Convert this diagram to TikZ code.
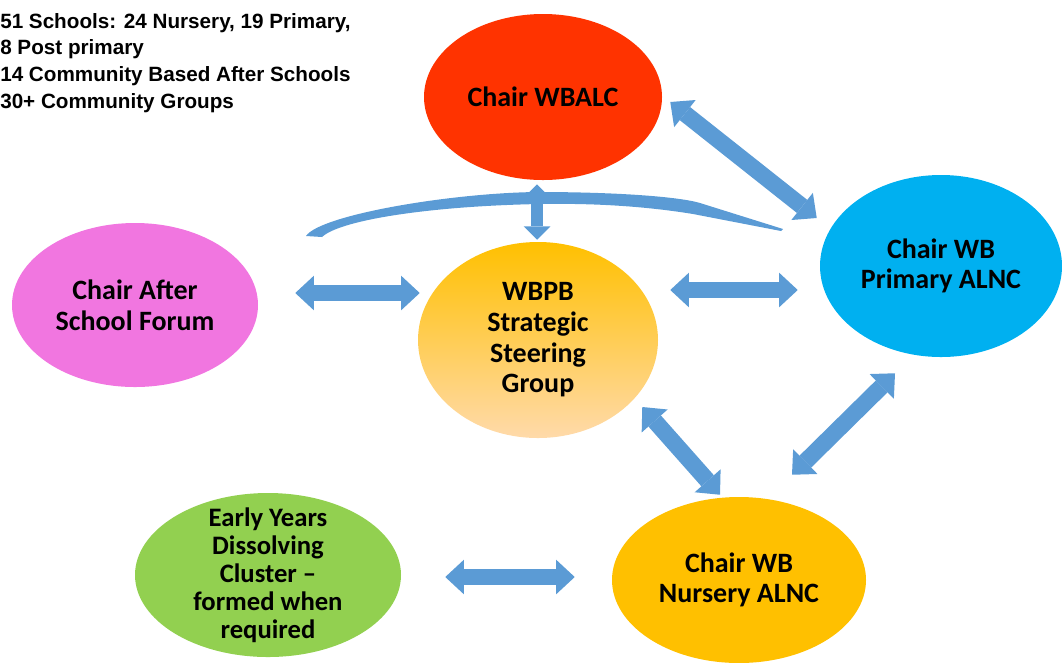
\documentclass[tikz,border=0pt]{standalone}
\usepackage{fontspec}
\setmainfont{Carlito}
\newfontfamily\arialfont{Liberation Sans}
\usetikzlibrary{shapes.geometric,arrows.meta}

\definecolor{alcred}{HTML}{FF3300}
\definecolor{primblue}{HTML}{00B0F0}
\definecolor{forumpink}{HTML}{F176E0}
\definecolor{eygreen}{HTML}{92D050}
\definecolor{nursyellow}{HTML}{FFC000}
\definecolor{sgtop}{HTML}{FFC000}
\definecolor{sgmid}{HTML}{FFC978}
\definecolor{sgbot}{HTML}{FFDAAA}
\definecolor{linkblue}{HTML}{5B9BD5}

\tikzset{
  bubble/.style={ellipse, inner sep=0pt, align=center,
    font=\bfseries\fontsize{21}{23}\selectfont},
  dblarrow/.style={draw=linkblue, line width=12.5pt,
    {Triangle[length=14pt,width=26pt,line width=0pt]}-{Triangle[length=14pt,width=26pt,line width=0pt]}},
  thinarrow/.style={draw=linkblue, line width=9pt,
    {Triangle[length=10pt,width=20pt,line width=0pt]}-{Triangle[length=10pt,width=20pt,line width=0pt]}}
}

\begin{document}
\begin{tikzpicture}[x=0.75pt, y=-0.75pt]
    \useasboundingbox (0,0) rectangle (1062,662);

    % Counts
    \node[anchor=north west, align=left, inner sep=0pt,
      font=\arialfont\bfseries\fontsize{15.5}{20}\selectfont] (counts) at (0,13)
      {51 Schools: 24 Nursery,  19 Primary,\\8 Post primary\\14 Community Based After Schools\\30+ Community Groups};

    % Chairs and groups
    \node[bubble, fill=alcred, minimum width=178.5pt, minimum height=124.5pt] (wbalc) at (543,97) {Chair WBALC};
    \node[bubble, fill=primblue, minimum width=181.5pt, minimum height=136.5pt] (primary) at (941,266) {Chair WB\\Primary ALNC};
    \node[bubble, fill=forumpink, minimum width=184.5pt, minimum height=123pt] (forum) at (135,305) {Chair After\\School Forum};
    \node[bubble, top color=sgtop, middle color=sgmid, bottom color=sgbot, minimum width=180pt, minimum height=147pt] (steering) at (538,340) {WBPB\\Strategic\\Steering\\Group};
    \node[bubble, fill=eygreen, minimum width=199.5pt, minimum height=123pt, inner ysep=-14pt,
      font=\bfseries\fontsize{20}{21}\selectfont] (cluster) at (268,575) {Early Years\\Dissolving\\Cluster –\\formed when\\required};
    \node[bubble, fill=nursyellow, minimum width=190.5pt, minimum height=124.5pt] (nursery) at (739,580) {Chair WB\\Nursery ALNC};

    % Links
    \draw[dblarrow] ([shift={(8,5)}]wbalc.east) -- ([shift={(-3,-48)}]primary.west);
    \draw[dblarrow] ([shift={(37,-12)}]forum.east) -- ([shift={(2,-47)}]steering.west);
    \draw[dblarrow] ([shift={(12,-50)}]steering.east) -- ([shift={(-22,24)}]primary.west);
    \draw[dblarrow] ([shift={(-16,67)}]steering.east) -- ([shift={(-19,-2)}]nursery.north);
    \draw[dblarrow] ([shift={(-46,16)}]primary.south) -- ([shift={(53,-22)}]nursery.north);
    \draw[dblarrow] ([shift={(44,2)}]cluster.east) -- ([shift={(-37,-3)}]nursery.west);
    \draw[thinarrow] ([shift={(-6,4)}]wbalc.south) -- ([shift={(-1,-2)}]steering.north);

    % Curved band
    \fill[linkblue] (306,236) .. controls (320,215) and (450,193) .. (537,192)
      .. controls (620,192) and (680,197) .. (700,203) -- (783,229) -- (781,231)
      -- (693,214) .. controls (650,207) and (600,203) .. (540,204)
      .. controls (430,206) and (340,220) .. (322,237) -- cycle;
\end{tikzpicture}
\end{document}
